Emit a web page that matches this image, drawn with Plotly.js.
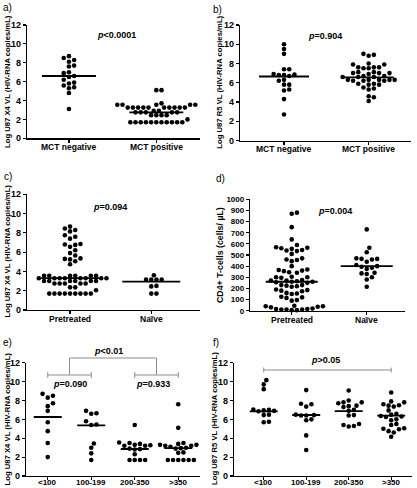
<!DOCTYPE html>
<html><head><meta charset="utf-8">
<script src="https://cdn.plot.ly/plotly-3.0.1.min.js"></script>
<style>html,body{margin:0;padding:0;background:#fff}#chart{width:417px;height:488px}</style>
</head><body><div id="chart"></div>
<script>
// ---------- DATA ----------
const catsMCT = ['MCT negative', 'MCT positive'];
const catsTx = ['Pretreated', 'Naïve'];
const catsCD4 = ['&lt;100', '100-199', '200-350', '&gt;350'];

// a) Log U87 X4 VL by MCT
const aX4MctNeg = [8.7, 8.5, 8.3, 8.1, 7.7, 7.6, 7.0, 6.9, 6.6, 6.5, 6.2, 5.9, 5.8, 5.6, 5.4, 5.3, 4.8, 3.1];
const aX4MctPos = [5.1, 5.1, 3.7, 3.55, 3.55, 3.55, 3.55, 3.55, 3.25, 3.25, 3.25, 3.25, 3.25, 3.25, 3.25, 3.25, 3.25, 3.25,
  2.9, 2.9, 2.75, 2.75, 2.75, 2.75, 2.75, 2.45, 2.45, 2.45, 2.45, 2.0,
  1.7, 1.7, 1.7, 1.7, 1.7, 1.7, 1.7, 1.7, 1.7, 1.7, 1.7];
const aMedians = [6.6, 2.75];

// b) Log U87 R5 VL by MCT
const bR5MctNeg = [10.0, 9.5, 9.0, 7.4, 7.4, 6.9, 6.85, 6.8, 6.8, 6.7, 6.3, 6.2, 5.8, 5.8, 5.3, 5.2, 4.3, 2.7];
const bR5MctPos = [9.0, 8.9, 8.8, 8.0, 7.9, 7.9, 7.6, 7.6, 7.6, 7.5, 7.5, 7.1, 7.1, 7.0, 7.0, 7.0, 6.9,
  6.7, 6.7, 6.6, 6.6, 6.6, 6.3, 6.3, 6.3, 6.3, 6.3, 6.2, 6.2, 6.2, 5.9, 5.9, 5.8, 5.8, 5.5, 5.4, 5.3, 4.6, 4.5, 4.1];
const bMedians = [6.65, 6.55];

// c) Log U87 X4 VL by treatment
const cX4Pretreated = [8.65, 8.45, 8.3, 8.15, 7.75, 7.6, 7.4, 6.85, 6.8, 6.75, 6.55, 6.2, 5.9, 5.65, 5.35, 5.3, 5.25, 5.05, 4.75,
  3.55, 3.55, 3.55, 3.55, 3.55, 3.55, 3.3, 3.3, 3.3, 3.3, 3.3, 3.3, 3.3, 3.3,
  3.0, 3.0, 3.0, 3.0, 3.0, 3.0, 2.75, 2.75, 2.75, 2.75, 2.75, 2.35, 2.35, 2.05,
  1.7, 1.7, 1.7, 1.7, 1.7, 1.7, 1.7, 1.7, 1.7];
const cX4Naive = [3.6, 3.15, 3.15, 3.15, 3.15, 2.5, 2.45, 1.7, 1.7];
const cMedians = [3.3, 2.95];

// d) CD4+ T-cells by treatment
const dCD4Pretreated = [880, 870, 750, 640, 590, 570, 565, 560, 555, 545, 540, 535, 510, 470, 460, 455, 445,
  400, 370, 365, 360, 355, 345, 340, 305, 300, 300, 295, 275, 270, 270, 265, 260, 260, 255, 250,
  230, 230, 225, 220, 215, 190, 185, 180, 175, 160, 155, 150, 125, 120, 115, 95, 90,
  45, 40, 40, 35, 30, 15, 10, 10, 5, 5, 10, 15, 20];
const dCD4Naive = [730, 565, 525, 470, 465, 460, 465, 440, 410, 400, 395, 385, 375, 340, 335, 330, 300, 280, 215];
const dMedians = [260, 400];

// e) Log U87 X4 VL by CD4 count
const eX4Lt100 = [8.7, 8.5, 8.3, 7.7, 7.4, 6.9, 5.7, 4.75, 3.5, 2.0];
const eX4100to199 = [6.9, 6.65, 6.6, 5.8, 5.45, 5.4, 3.45, 3.0, 2.4, 1.7];
const eX4200to350 = [5.4, 3.55, 3.5, 3.4, 3.3, 3.25, 3.2, 3.2, 2.9, 2.85, 2.8, 2.3, 1.7, 1.7, 1.7, 1.7];
const eX4Gt350 = [7.6, 5.1, 3.5, 3.4, 3.35, 3.3, 3.3, 3.2, 3.2, 3.1, 3.0, 2.95, 2.9, 2.5, 2.45, 1.7, 1.7, 1.7, 1.7, 1.7, 1.7];
const eMedians = [6.25, 5.37, 2.86, 2.96];

// f) Log U87 R5 VL by CD4 count
const fR5Lt100 = [10.15, 9.7, 9.2, 7.05, 7.0, 6.95, 6.9, 6.85, 6.5, 6.45, 5.75, 5.7];
const fR5100to199 = [9.1, 7.65, 7.6, 7.35, 6.5, 6.45, 6.4, 6.4, 6.0, 5.9, 4.3, 2.75];
const fR5200to350 = [9.05, 8.0, 7.8, 7.8, 7.7, 7.45, 7.4, 7.3, 7.0, 6.9, 6.45, 6.4, 5.5, 5.4, 5.3, 5.25];
const fR5Gt350 = [8.85, 7.9, 7.8, 7.6, 7.5, 7.45, 7.35, 6.95, 6.6, 6.5, 6.35, 6.3, 6.25, 6.0, 5.9, 5.5, 5.4, 5.05, 5.0, 4.95, 4.75, 4.6, 4.15];
const fMedians = [6.85, 6.46, 6.88, 6.39];

// ---------- LAYOUT / RENDER ----------
const FONT = 'Liberation Sans, Arial, sans-serif';
const W = 417, H = 488;
const STEP = 5.2, DMIN = 4.7;

function swarmOffsets(vals, pxPerX, pxPerY) {
  const order = vals.map((v, i) => i).sort((a, b) => vals[a] - vals[b]);
  const placed = [];
  const off = new Array(vals.length);
  order.forEach(i => {
    const yp = vals[i] * pxPerY;
    for (let k = 0; k < 400; k++) {
      const m = Math.ceil(k / 2) * (k % 2 === 1 ? 1 : -1);
      const xp = m * STEP / 2;
      if (placed.every(p => Math.hypot(p.x - xp, p.y - yp) >= DMIN)) {
        placed.push({x: xp, y: yp});
        off[i] = xp / pxPerX;
        break;
      }
    }
  });
  return off;
}

const panels = [
  {xd: [27, 200], yd: [25, 138.3], xr: [-0.48, 1.5], yr: [0, 12], dt: 2, cats: catsMCT, groups: [aX4MctNeg, aX4MctPos], med: aMedians, mhw: 27, xfs: 8.5, yfs: 9, lblY: 147},
  {xd: [240, 411], yd: [25, 140.5], xr: [-0.52, 1.5], yr: [0, 12], dt: 2, cats: catsMCT, groups: [bR5MctNeg, bR5MctPos], med: bMedians, mhw: 25, xfs: 8.5, yfs: 9, lblY: 148.5},
  {xd: [27, 200], yd: [194.3, 310], xr: [-0.53, 1.6], yr: [0, 12], dt: 2, cats: catsTx, groups: [cX4Pretreated, cX4Naive], med: cMedians, mhw: 29, xfs: 8.5, yfs: 9, lblY: 318.5},
  {xd: [250, 405], yd: [199.3, 310.7], xr: [-0.556, 1.51], yr: [0, 1000], dt: 100, cats: catsTx, groups: [dCD4Pretreated, dCD4Naive], med: dMedians, mhw: 26, xfs: 8.5, yfs: 8, lblY: 319.5},
  {xd: [26, 200], yd: [362.7, 476], xr: [-0.5, 3.5], yr: [0, 12], dt: 2, cats: catsCD4, groups: [eX4Lt100, eX4100to199, eX4200to350, eX4Gt350], med: eMedians, mhw: 14, xfs: 8, yfs: 9, lblY: 482},
  {xd: [234, 412], yd: [362.7, 476], xr: [-0.7, 3.49], yr: [0, 12], dt: 2, cats: catsCD4, groups: [fR5Lt100, fR5100to199, fR5200to350, fR5Gt350], med: fMedians, mhw: 14, xfs: 8, yfs: 9, lblY: 482}
];

const traces = [];
const layout = {
  width: W, height: H, margin: {l: 0, r: 0, t: 0, b: 0},
  paper_bgcolor: '#fff', plot_bgcolor: 'rgba(0,0,0,0)', showlegend: false,
  font: {family: FONT, color: '#000'},
  annotations: [], shapes: []
};
const X = v => v / W, Y = v => 1 - v / H;

panels.forEach((p, pi) => {
  const sfx = pi === 0 ? '' : String(pi + 1);
  const xa = 'x' + sfx, ya = 'y' + sfx;
  const pxPerX = (p.xd[1] - p.xd[0]) / (p.xr[1] - p.xr[0]);
  const pxPerY = (p.yd[1] - p.yd[0]) / (p.yr[1] - p.yr[0]);
  p.groups.forEach((vals, gi) => {
    const off = swarmOffsets(vals, pxPerX, pxPerY);
    traces.push({
      type: 'scatter', mode: 'markers', xaxis: xa, yaxis: ya, cliponaxis: false,
      x: vals.map((v, i) => gi + off[i]), y: vals,
      marker: {size: 4.6, color: '#000', line: {width: 0}}, hoverinfo: 'skip'
    });
    const hw = p.mhw / pxPerX;
    traces.push({
      type: 'scatter', mode: 'lines', xaxis: xa, yaxis: ya, cliponaxis: false,
      x: [gi - hw, gi + hw], y: [p.med[gi], p.med[gi]],
      line: {color: '#000', width: 1.8}, hoverinfo: 'skip'
    });
  });
  const tickFont = {family: FONT, size: p.xfs, color: '#000', weight: 'bold'};
  layout['xaxis' + sfx] = {
    domain: [p.xd[0] / W, p.xd[1] / W], range: p.xr, anchor: ya,
    showline: true, linecolor: '#000', linewidth: 1.2,
    ticks: 'outside', ticklen: 3, tickwidth: 1.2, tickcolor: '#000',
    tickmode: 'array', tickvals: p.cats.map((c, i) => i), ticktext: p.cats,
    showticklabels: false,
    showgrid: false, zeroline: false, fixedrange: true
  };
  // category labels placed just under the axis, at the category positions of the axis
  p.cats.forEach((c, i) => layout.annotations.push({
    text: c, x: i, y: Y(p.lblY), xref: xa, yref: 'paper', showarrow: false,
    xanchor: 'center', yanchor: 'middle', font: tickFont
  }));
  layout['yaxis' + sfx] = {
    domain: [1 - p.yd[1] / H, 1 - p.yd[0] / H], range: p.yr, anchor: xa,
    showline: true, linecolor: '#000', linewidth: 1.2,
    ticks: 'outside', ticklen: 3, tickwidth: 1.2, tickcolor: '#000',
    tickmode: 'linear', tick0: 0, dtick: p.dt,
    tickfont: {family: FONT, size: p.yfs, color: '#000', weight: 'bold'},
    showgrid: false, zeroline: false, fixedrange: true
  };
});

function ann(text, x, y, opts) {
  layout.annotations.push(Object.assign({
    text: text, x: X(x), y: Y(y), xref: 'paper', yref: 'paper',
    showarrow: false, xanchor: 'center', yanchor: 'middle',
    font: {family: FONT, size: 9, color: '#000', weight: 'bold'}
  }, opts || {}));
}
// panel letters
[['a)', 0.5, 7], ['b)', 211, 10], ['c)', 2, 177], ['d)', 214, 178], ['e)', 0.5, 342], ['f)', 211, 342]].forEach(l =>
  ann(l[0], l[1], l[2], {xanchor: 'left', font: {family: FONT, size: 10, color: '#000'}}));
// y titles
const ytX4 = 'Log U87 X4 VL (HIV-RNA copies/mL)';
const ytR5 = 'Log U87 R5 VL (HIV-RNA copies/mL)';
const ytf = {family: FONT, size: 7.7, color: '#000', weight: 'bold'};
ann(ytX4, 7.3, 81.7, {textangle: -90, font: ytf});
ann(ytR5, 220, 82.7, {textangle: -90, font: ytf});
ann(ytX4, 6.5, 251, {textangle: -90, font: ytf});
ann('CD4+ T-cells (cells/ µL)', 220, 255, {textangle: -90, font: {family: FONT, size: 8.8, color: '#000', weight: 'bold'}});
ann(ytX4, 6.5, 419, {textangle: -90, font: ytf});
ann(ytR5, 214, 419, {textangle: -90, font: ytf});
// p values
ann('<i>p</i>&lt;0.0001', 116, 34.5);
ann('<i>p</i>=0.904', 325, 36);
ann('<i>p</i>=0.094', 110, 207);
ann('<i>p</i>=0.004', 335, 211);
ann('<i>p</i>&lt;0.01', 108, 351);
ann('<i>p</i>=0.090', 70, 384);
ann('<i>p</i>=0.933', 153, 384);
ann('<i>p</i>&gt;0.05', 325, 360);

// brackets (x in category units, y in paper)
const BR = {color: '#8c8c8c', width: 1};
function seg(xref, x0, y0, x1, y1) {
  layout.shapes.push({type: 'line', xref: xref, yref: 'paper', x0: x0, x1: x1, y0: Y(y0), y1: Y(y1), line: BR, layer: 'above'});
}
// panel e
seg('x5', 0, 375, 1, 375); seg('x5', 0, 372, 0, 378); seg('x5', 1, 372, 1, 378);
seg('x5', 2, 375, 3, 375); seg('x5', 2, 372, 2, 378); seg('x5', 3, 372, 3, 378);
seg('x5', 0.5, 375, 0.5, 358); seg('x5', 2.5, 375, 2.5, 358); seg('x5', 0.5, 358, 2.5, 358);
// panel f
seg('x6', 0, 370, 3, 370); seg('x6', 0, 367.5, 0, 372.5); seg('x6', 3, 367.5, 3, 372.5);

Plotly.newPlot('chart', traces, layout, {staticPlot: true, displayModeBar: false});
</script>
</body></html>
